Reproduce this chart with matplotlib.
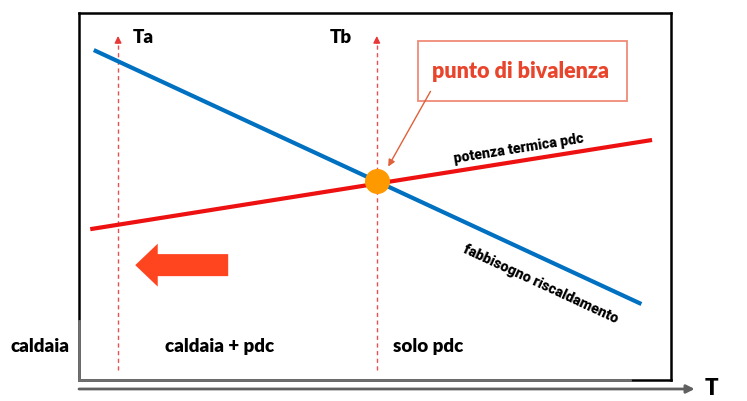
import numpy as np
import matplotlib
matplotlib.use("Agg")
import matplotlib.pyplot as plt
from matplotlib.patches import Rectangle, FancyArrow

# schematic data (arbitrary units, T on x, power on y)
t_ends = [2.5, 95.0]
demand = [89.9, 20.7]          # fabbisogno riscaldamento
t_hp = [1.9, 96.8]
hp_power = [41.1, 65.4]        # potenza termica pdc
t_a = 6.6
t_b = 50.3
zone_labels = ["caldaia", "caldaia + pdc", "solo pdc"]
zone_x = [-6.6, 23.8, 59.0]

fig = plt.figure(figsize=(7.47, 4.02), dpi=100)
ax = fig.add_axes([79 / 747, 1 - 381 / 402, 592 / 747, 367 / 402])
ax.set_xlim(0, 100)
ax.set_ylim(0, 100)
ax.set_xticks([])
ax.set_yticks([])
for s in ax.spines.values():
    s.set_color("black")
    s.set_linewidth(1.8)

# gray parts of the frame
ax.plot([0, 0], [0, 16], color="#707070", lw=2, clip_on=False, zorder=5)
ax.plot([0, 93], [0, 0], color="#707070", lw=2, clip_on=False, zorder=5)

# curves
ax.plot(t_ends, demand, color="#0070C0", lw=3, solid_capstyle="butt", zorder=3)
ax.plot(t_hp, hp_power, color="#EE1111", lw=3, solid_capstyle="butt", zorder=3)

# bivalence point (drawn on the Tb line)
yb = np.interp(t_b, t_ends, demand)
ax.plot([t_b], [yb], "o", color="#FF9900", markersize=17, zorder=4)

# dashed temperature markers
for tx in [t_a, t_b]:
    ax.plot([tx, tx], [2.7, 92], color="#E85050", lw=1, ls=(0, (3, 2.5)), zorder=2)
    ax.annotate("", xy=(tx, 94.5), xytext=(tx, 91),
                arrowprops=dict(arrowstyle="-|>", color="#E83838", lw=1,
                                mutation_scale=10))
ax.text(9.1, 93.5, "Ta", fontsize=13.5, fontweight="heavy", family="Lato",
        va="center", ha="left")
ax.text(42.4, 93.5, "Tb", fontsize=13.5, fontweight="heavy", family="Lato",
        va="center", ha="left")

# box with label
ax.add_patch(Rectangle((57.3, 76.0), 35.3, 16.4, fill=False,
                       edgecolor="#F08A78", lw=1.3, zorder=3))
ax.text(74.5, 84.4, "punto di bivalenza", fontsize=15.5, fontweight="heavy",
        family="Lato", color="#E8452C", ha="center", va="center")
ax.annotate("", xy=(52.0, 57.5), xytext=(59.6, 79.3),
            arrowprops=dict(arrowstyle="-|>", color="#E0603A", lw=1,
                            mutation_scale=10))

# big left arrow
ax.add_patch(FancyArrow(25.2, 31.3, -15.7, 0, width=6.0, head_width=11.7,
                        head_length=3.8, length_includes_head=True,
                        color="#FF4520", lw=0, zorder=3))


def screen_angle(xs, ys):
    p = ax.transData.transform(np.column_stack([xs, ys]))
    return np.degrees(np.arctan2(p[1, 1] - p[0, 1], p[1, 0] - p[0, 0]))


ax.text(74.3, 63.2, "potenza termica pdc", fontsize=10.3, fontweight="heavy",
        family="Roboto", rotation=screen_angle(t_hp, hp_power),
        rotation_mode="anchor", ha="center", va="center")
ax.text(78.0, 26.5, "fabbisogno riscaldamento", fontsize=10.4, fontweight="heavy",
        family="Roboto", rotation=screen_angle(t_ends, demand),
        rotation_mode="anchor", ha="center", va="center")

# zone labels
for lab, zx in zip(zone_labels, zone_x):
    ax.text(zx, 9.3, lab, fontsize=13.5, fontweight="heavy", family="Lato",
            ha="center", va="center", clip_on=False)

# T axis
ax.annotate("", xy=(104.0, -2.45), xytext=(0, -2.45),
            xycoords="data", annotation_clip=False,
            arrowprops=dict(arrowstyle="-|>", color="#606060", lw=2,
                            mutation_scale=12, shrinkA=0, shrinkB=0))
ax.text(106.9, -2.0, "T", fontsize=16, fontweight="heavy", family="Lato",
        ha="center", va="center", clip_on=False)

fig.savefig("out.png", dpi=100)
